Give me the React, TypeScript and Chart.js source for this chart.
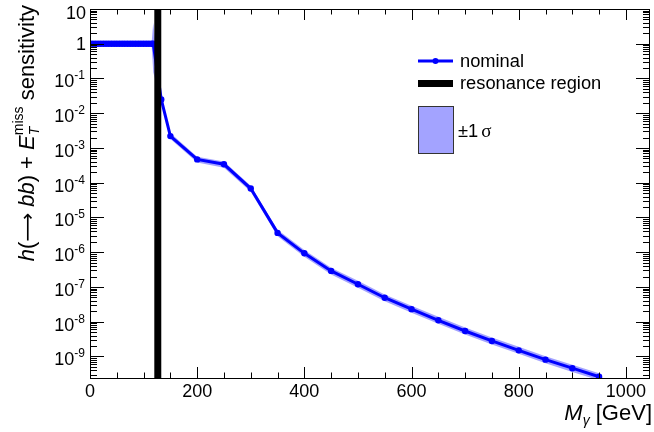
import React, { useEffect, useRef } from 'react';
import { Chart, registerables } from 'chart.js';

Chart.register(...registerables);

// ---- data ----
const massPoints = [
  0, 5, 10, 15, 20, 25, 30, 35, 40, 45, 50, 55, 60, 65, 70, 75, 80, 85, 90, 95, 100, 105, 110, 115, 118,
  133, 150, 200, 250, 300, 350, 400, 450, 500, 550, 600, 650, 700, 750, 800, 850, 900, 950,
];
const nominal = [
  1, 1, 1, 1, 1, 1, 1, 1, 1, 1, 1, 1, 1, 1, 1, 1, 1, 1, 1, 1, 1, 1, 1, 1, 1,
  0.025, 2.2e-3, 4.7e-4, 3.4e-4, 6.8e-5, 3.6e-6, 9.3e-7, 2.9e-7, 1.2e-7, 4.9e-8, 2.3e-8, 1.1e-8,
  5.4e-9, 2.8e-9, 1.5e-9, 8.1e-10, 4.6e-10, 2.6e-10,
];
const bandUpper = [
  1.08, 1.08, 1.08, 1.08, 1.08, 1.08, 1.08, 1.08, 1.08, 1.08, 1.08, 1.08, 1.08, 1.08, 1.08, 1.08, 1.08,
  1.08, 1.08, 1.08, 1.08, 1.08, 1.08, 1.08, 4.0,
  0.03, 2.7e-3, 5.6e-4, 4.1e-4, 8.2e-5, 4.4e-6, 1.15e-6, 3.6e-7, 1.5e-7, 6.1e-8, 2.9e-8, 1.38e-8,
  6.8e-9, 3.5e-9, 1.9e-9, 1.02e-9, 5.8e-10, 3.3e-10,
];
const bandLower = [
  0.92, 0.92, 0.92, 0.92, 0.92, 0.92, 0.92, 0.92, 0.92, 0.92, 0.92, 0.92, 0.92, 0.92, 0.92, 0.92, 0.92,
  0.92, 0.92, 0.92, 0.92, 0.92, 0.92, 0.92, 0.15,
  0.02, 1.8e-3, 3.8e-4, 2.7e-4, 5.5e-5, 2.9e-6, 7.4e-7, 2.3e-7, 9.5e-8, 3.9e-8, 1.8e-8, 8.7e-9,
  4.3e-9, 2.2e-9, 1.2e-9, 6.4e-10, 3.6e-10, 2.05e-10,
];
const resonanceRegion = [120, 133];
const xMajorTicks = [0, 200, 400, 600, 800, 1000];
const xTickLabels = ['0', '200', '400', '600', '800', '1000'];
const yDecades = [1, 0, -1, -2, -3, -4, -5, -6, -7, -8, -9];
const legendLabels = ['nominal', 'resonance region', '\u00b11', '\u03c3'];

const SANS = '"Liberation Sans", Arial, Helvetica, sans-serif';
const BLUE = '#0000ff';
const BAND = 'rgba(0,0,255,0.36)';
const TITLE = 22;
const TITLE_SMALL = 14;

type Seg = { text: string; font: string; dy?: number; stackWith?: { text: string; font: string; dy: number } };

function segWidth(ctx: CanvasRenderingContext2D, s: Seg) {
  ctx.font = s.font;
  let w = ctx.measureText(s.text).width;
  if (s.stackWith) {
    ctx.font = s.stackWith.font;
    w = Math.max(w, ctx.measureText(s.stackWith.text).width);
  }
  return w;
}

// draws rich text so that it ENDS at x (right aligned), baseline y
function drawRichRight(ctx: CanvasRenderingContext2D, segs: Seg[], x: number, y: number) {
  const total = segs.reduce((a, s) => a + segWidth(ctx, s), 0);
  let cx = x - total;
  ctx.textAlign = 'left';
  ctx.textBaseline = 'alphabetic';
  for (const s of segs) {
    const w = segWidth(ctx, s);
    ctx.font = s.font;
    ctx.fillText(s.text, cx, y + (s.dy || 0));
    if (s.stackWith) {
      ctx.font = s.stackWith.font;
      ctx.fillText(s.stackWith.text, cx, y + s.stackWith.dy);
    }
    cx += w;
  }
}

const rootPlugin = {
  id: 'rootStyle',
  afterDatasetsDraw(chart: any) {
    const { ctx, chartArea: a, scales } = chart;
    const xs = scales.x;
    const x0 = xs.getPixelForValue(resonanceRegion[0]);
    const x1 = xs.getPixelForValue(resonanceRegion[1]);
    ctx.save();
    ctx.fillStyle = '#000';
    ctx.fillRect(x0, a.top, x1 - x0, a.bottom - a.top);
    ctx.restore();
  },
  afterDraw(chart: any) {
    const { ctx, chartArea: a, scales } = chart;
    const xs = scales.x;
    const ys = scales.y;
    ctx.save();
    ctx.strokeStyle = '#000';
    ctx.lineWidth = 1;
    // frame
    ctx.strokeRect(Math.round(a.left) + 0.5, Math.round(a.top) + 0.5, Math.round(a.right - a.left) - 1, Math.round(a.bottom - a.top));

    // x ticks
    ctx.beginPath();
    for (let v = 0; v <= 1040; v += 50) {
      const px = Math.round(xs.getPixelForValue(v)) + 0.5;
      const len = v % 200 === 0 ? 11 : 5.5;
      ctx.moveTo(px, a.bottom);
      ctx.lineTo(px, a.bottom - len);
      ctx.moveTo(px, a.top);
      ctx.lineTo(px, a.top + len);
    }
    // y ticks
    for (let e = -10; e <= 1; e++) {
      for (let k = 1; k <= 9; k++) {
        const v = k * Math.pow(10, e);
        if (v < ys.min * 0.999 || v > ys.max * 1.001) continue;
        const py = Math.round(ys.getPixelForValue(v)) + 0.5;
        const len = k === 1 ? 14 : 7;
        ctx.moveTo(a.left, py);
        ctx.lineTo(a.left + len, py);
        ctx.moveTo(a.right, py);
        ctx.lineTo(a.right - len, py);
      }
    }
    ctx.stroke();

    ctx.fillStyle = '#000';
    // x tick labels
    ctx.font = `18px ${SANS}`;
    ctx.textAlign = 'center';
    ctx.textBaseline = 'alphabetic';
    xMajorTicks.forEach((v, i) => {
      ctx.fillText(xTickLabels[i], xs.getPixelForValue(v), 397);
    });

    // y tick labels
    const base = `18px ${SANS}`;
    const sup = `12px ${SANS}`;
    yDecades.forEach((e) => {
      const py = ys.getPixelForValue(Math.pow(10, e));
      if (e === 0) {
        drawRichRight(ctx, [{ text: '1', font: base }], 86, py + 6);
      } else if (e === 1) {
        drawRichRight(ctx, [{ text: '10', font: base }], 86, py + 10);
      } else {
        drawRichRight(ctx, [{ text: '10', font: base }, { text: String(e), font: sup, dy: -8 }], 85, py + 9);
      }
    });

    // x title
    drawRichRight(
      ctx,
      [
        { text: 'M', font: `italic ${TITLE}px ${SANS}` },
        { text: '\u03b3', font: `italic ${TITLE_SMALL}px ${SANS}`, dy: 5 },
        { text: ' [GeV]', font: `${TITLE}px ${SANS}` },
      ],
      652,
      420,
    );

    // y title (rotated)
    ctx.save();
    ctx.translate(34, 5);
    ctx.rotate(-Math.PI / 2);
    drawRichRight(
      ctx,
      [
        { text: 'h', font: `italic ${TITLE}px ${SANS}` },
        { text: '(', font: `${TITLE}px ${SANS}` },
        { text: '\u27f6', font: `${TITLE - 2}px "DejaVu Sans", sans-serif` },
        { text: ' ', font: `${TITLE}px ${SANS}` },
        { text: 'bb', font: `italic ${TITLE}px ${SANS}` },
        { text: ') + ', font: `${TITLE}px ${SANS}` },
        { text: 'E', font: `italic ${TITLE}px ${SANS}` },
        {
          text: 'T',
          font: `italic ${TITLE_SMALL}px ${SANS}`,
          dy: 5,
          stackWith: { text: 'miss', font: `${TITLE_SMALL}px ${SANS}`, dy: -11 },
        },
        { text: ' sensitivity', font: `${TITLE}px ${SANS}` },
      ],
      0,
      0,
    );
    ctx.restore();

    // legend
    ctx.strokeStyle = BLUE;
    ctx.lineWidth = 3;
    ctx.beginPath();
    ctx.moveTo(418, 61);
    ctx.lineTo(453, 61);
    ctx.stroke();
    ctx.fillStyle = BLUE;
    ctx.beginPath();
    ctx.arc(435.5, 61, 3, 0, Math.PI * 2);
    ctx.fill();
    ctx.fillStyle = '#000';
    ctx.fillRect(418, 80, 35, 7);
    ctx.fillStyle = BAND;
    ctx.fillRect(418, 106, 35, 47);
    ctx.strokeStyle = '#333';
    ctx.lineWidth = 1;
    ctx.strokeRect(418.5, 106.5, 35, 47);

    ctx.fillStyle = '#000';
    ctx.textAlign = 'left';
    ctx.font = `18.3px ${SANS}`;
    ctx.fillText(legendLabels[0], 460, 67);
    ctx.fillText(legendLabels[1], 460, 89);
    ctx.fillText(legendLabels[2], 458, 137);
    const w = ctx.measureText(legendLabels[2] + ' ').width;
    ctx.font = `19px "Liberation Serif", "DejaVu Serif", serif`;
    ctx.fillText(legendLabels[3], 458 + w - 2, 137);
    ctx.restore();
  },
};

export default function App() {
  const ref = useRef<HTMLCanvasElement | null>(null);

  useEffect(() => {
    if (!ref.current) return;
    const pts = (ys: number[]) => massPoints.map((x, i) => ({ x, y: ys[i] }));
    const chart = new Chart(ref.current, {
      type: 'line',
      data: {
        datasets: [
          {
            label: 'band up',
            data: pts(bandUpper),
            borderWidth: 0,
            borderColor: 'rgba(0,0,0,0)',
            pointRadius: 0,
            backgroundColor: BAND,
            fill: '+1',
            tension: 0,
          },
          {
            label: 'band down',
            data: pts(bandLower),
            borderWidth: 0,
            borderColor: 'rgba(0,0,0,0)',
            pointRadius: 0,
            fill: false,
            tension: 0,
          },
          {
            label: 'nominal',
            data: pts(nominal),
            borderColor: BLUE,
            backgroundColor: BLUE,
            borderWidth: 3,
            pointRadius: 3.2,
            pointBorderWidth: 0,
            pointBackgroundColor: BLUE,
            fill: false,
            tension: 0,
          },
        ],
      },
      options: {
        responsive: false,
        animation: false,
        layout: { padding: { left: 90, right: 1, top: 9, bottom: 54 } },
        plugins: { legend: { display: false }, tooltip: { enabled: false } },
        scales: {
          x: { type: 'linear', min: 0, max: 1045, display: false },
          y: { type: 'logarithmic', min: 2.4e-10, max: 10, display: false },
        },
      },
      plugins: [rootPlugin],
    } as any);
    return () => chart.destroy();
  }, []);

  return (
    <div style={{ position: 'fixed', left: 0, top: 0, width: 654, height: 432, background: '#fff' }}>
      <canvas ref={ref} width={654} height={432} style={{ display: 'block' }} />
    </div>
  );
}
